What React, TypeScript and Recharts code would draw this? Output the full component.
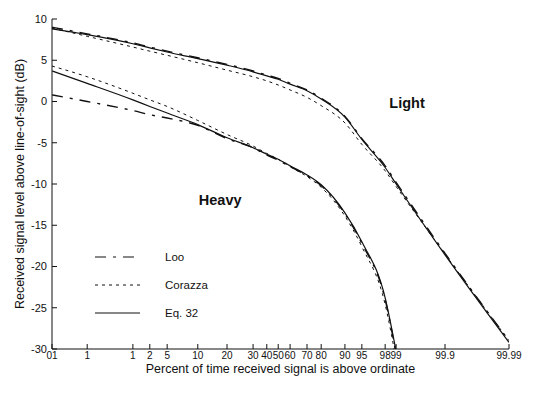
import React from 'react';
import {
  LineChart,
  Line,
  XAxis,
  YAxis,
  ReferenceDot,
} from 'recharts';

// percent of time (x), tick labels as printed on the original figure
const PERCENT = [0.01, 0.1, 1, 2, 5, 10, 20, 30, 40, 50, 60, 70, 80, 90, 95, 98, 99, 99.9, 99.99];
const PERCENT_LABELS = ['01', '1', '1', '2', '5', '10', '20', '30', '40', '50', '60', '70', '80', '90', '95', '98', '99', '99.9', '99.99'];
// where each percent sits along the (probability) axis, 0..100
const X_TICK_POS = [0, 7.7, 17.7, 21.4, 25.2, 31.9, 38.3, 44.0, 47.0, 49.5, 52.1, 55.8, 58.9, 64.1, 67.8, 72.9, 75.3, 86.0, 100];

const Y_TICKS = [-30, -25, -20, -15, -10, -5, 0, 5, 10];

// received signal level (dB) at each percent
const LIGHT_EQ32 = [8.8, 8.1, 7.0, 6.5, 6.0, 5.2, 4.4, 3.6, 3.1, 2.7, 2.1, 1.3, 0.3, -1.9, -4.6, -8.0, -10.0, -18.6, -29.2];
const LIGHT_LOO = [9.0, 8.2, 7.1, 6.6, 6.1, 5.3, 4.5, 3.7, 3.2, 2.8, 2.2, 1.4, 0.4, -1.8, -4.5, -7.8, -9.8, -18.4, -29.0];
const LIGHT_CORAZZA = [8.9, 7.9, 6.6, 6.1, 5.6, 4.7, 3.8, 3.0, 2.5, 2.0, 1.4, 0.5, -0.5, -2.6, -5.2, -8.4, -10.3, -18.5, -29.0];
const HEAVY_EQ32 = [3.7, 2.2, 0.2, -0.6, -1.4, -2.8, -4.4, -5.6, -6.4, -7.0, -7.8, -8.9, -10.1, -13.5, -17.0, -23.8, -30.3, null, null];
const HEAVY_LOO = [0.8, 0.0, -1.1, -1.6, -2.0, -2.9, -4.5, -5.6, -6.5, -7.1, -7.9, -9.0, -10.2, -13.6, -17.2, -24.0, -30.6, null, null];
const HEAVY_CORAZZA = [4.3, 3.0, 1.0, 0.2, -0.6, -2.3, -4.0, -5.4, -6.3, -7.0, -7.9, -9.1, -10.4, -13.9, -17.6, -24.6, -31.3, null, null];

const data = PERCENT.map((p, i) => ({
  pct: p,
  pos: X_TICK_POS[i],
  lightEq32: LIGHT_EQ32[i],
  lightLoo: LIGHT_LOO[i],
  lightCorazza: LIGHT_CORAZZA[i],
  heavyEq32: HEAVY_EQ32[i],
  heavyLoo: HEAVY_LOO[i],
  heavyCorazza: HEAVY_CORAZZA[i],
}));

const FONT = '"Liberation Sans", Arial, sans-serif';
const INK = '#111';
const LOO_DASH = '11 7 3 7';
const CORAZZA_DASH = '3 4';

const legendItems = [
  { name: 'Loo', dash: LOO_DASH },
  { name: 'Corazza', dash: CORAZZA_DASH },
  { name: 'Eq. 32', dash: undefined },
];

// legend sits inside the plot, lower left
const LegendBox = () => (
  <svg width={130} height={80} style={{ position: 'absolute', left: 95, top: 247 }}>
    {legendItems.map((it, i) => (
      <g key={it.name} transform={`translate(0, ${10 + i * 28})`}>
        <line x1={0} y1={0} x2={45} y2={0} stroke={INK} strokeWidth={1} strokeDasharray={it.dash} />
        <text x={70} y={4} fontSize={11.5} fontFamily={FONT} fill={INK}>
          {it.name}
        </text>
      </g>
    ))}
  </svg>
);

const labelFor = (pos: number) => {
  const i = X_TICK_POS.indexOf(pos);
  return i >= 0 ? PERCENT_LABELS[i] : '';
};

const tickStyle = { fill: INK, fontSize: 10, fontFamily: FONT };
const regionLabel = { fill: INK, fontSize: 14.5, fontWeight: 700, fontFamily: FONT };

export default function App() {
  return (
    <div style={{ position: 'relative', width: 553, height: 399, background: '#fff' }}>
      <style>{'body{margin:0}'}</style>
      <LineChart
        width={553}
        height={399}
        data={data}
        margin={{ top: 19, right: 44, bottom: 22, left: 0 }}
      >
        <XAxis
          xAxisId="bottom"
          dataKey="pos"
          type="number"
          domain={[0, 100]}
          ticks={X_TICK_POS}
          interval={0}
          tickFormatter={labelFor}
          allowDataOverflow
          height={28}
          stroke={INK}
          tickSize={-5}
          tickMargin={8}
          tick={tickStyle}
          label={{
            value: 'Percent of time received signal is above ordinate',
            position: 'insideBottom',
            offset: 4,
            style: { fill: INK, fontSize: 12.5, fontFamily: FONT },
          }}
        />
        <XAxis
          xAxisId="top"
          orientation="top"
          dataKey="pos"
          type="number"
          domain={[0, 100]}
          ticks={X_TICK_POS}
          interval={0}
          height={0}
          stroke={INK}
          tickSize={-5}
          tick={false}
        />
        <YAxis
          yAxisId="left"
          type="number"
          domain={[-30, 10]}
          ticks={Y_TICKS}
          interval={0}
          allowDataOverflow
          width={52}
          stroke={INK}
          tickSize={-5}
          tickMargin={10}
          tick={{ ...tickStyle, fontSize: 11 }}
          label={{
            value: 'Received signal level above line-of-sight (dB)',
            angle: -90,
            position: 'insideLeft',
            offset: 20,
            style: { fill: INK, fontSize: 12.5, fontFamily: FONT, textAnchor: 'middle' },
          }}
        />
        <YAxis
          yAxisId="right"
          orientation="right"
          type="number"
          domain={[-30, 10]}
          ticks={Y_TICKS}
          interval={0}
          width={0}
          stroke={INK}
          tickSize={-5}
          tick={false}
        />

        <Line xAxisId="bottom" yAxisId="left" type="monotone" dataKey="lightEq32" stroke={INK} strokeWidth={1.2} dot={false} isAnimationActive={false} />
        <Line xAxisId="bottom" yAxisId="left" type="monotone" dataKey="lightLoo" stroke={INK} strokeWidth={1.4} strokeDasharray={LOO_DASH} dot={false} isAnimationActive={false} />
        <Line xAxisId="bottom" yAxisId="left" type="monotone" dataKey="lightCorazza" stroke={INK} strokeWidth={1} strokeDasharray={CORAZZA_DASH} dot={false} isAnimationActive={false} />
        <Line xAxisId="bottom" yAxisId="left" type="monotone" dataKey="heavyEq32" stroke={INK} strokeWidth={1.2} dot={false} isAnimationActive={false} />
        <Line xAxisId="bottom" yAxisId="left" type="monotone" dataKey="heavyLoo" stroke={INK} strokeWidth={1.4} strokeDasharray={LOO_DASH} dot={false} isAnimationActive={false} />
        <Line xAxisId="bottom" yAxisId="left" type="monotone" dataKey="heavyCorazza" stroke={INK} strokeWidth={1} strokeDasharray={CORAZZA_DASH} dot={false} isAnimationActive={false} />

        <ReferenceDot xAxisId="bottom" yAxisId="left" x={77.7} y={-0.2} r={0} label={{ value: 'Light', position: 'center', style: regionLabel }} />
        <ReferenceDot xAxisId="bottom" yAxisId="left" x={36.8} y={-11.9} r={0} label={{ value: 'Heavy', position: 'center', style: regionLabel }} />
      </LineChart>
      <LegendBox />
    </div>
  );
}
